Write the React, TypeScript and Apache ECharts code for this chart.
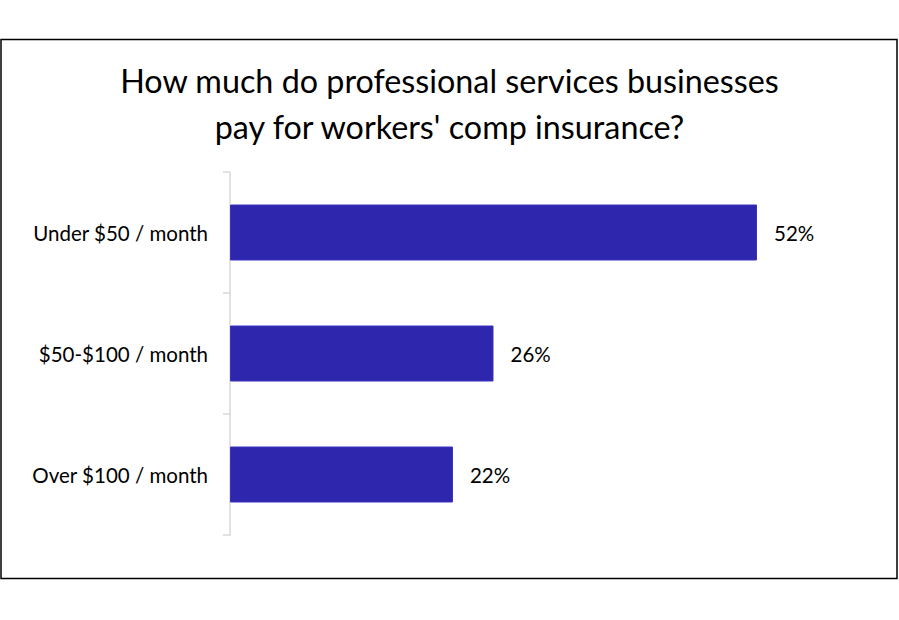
import React, { useEffect, useRef } from 'react';
import * as echarts from 'echarts';

// 数据
const categories = ['Under $50 / month', '$50-$100 / month', 'Over $100 / month'];
const shares = [52, 26, 22];
const titleLines = ['How much do professional services businesses', "pay for workers' comp insurance?"];

const FONT = 'Lato, "Open Sans", sans-serif';

const App: React.FC = () => {
  const chartRef = useRef<HTMLDivElement>(null);

  useEffect(() => {
    if (!chartRef.current) return;
    const chart = echarts.init(chartRef.current, undefined, { renderer: 'svg' });
    chart.setOption({
      animation: false,
      backgroundColor: '#ffffff',
      textStyle: { fontFamily: FONT },
      title: {
        text: titleLines.join('\n'),
        left: 'center',
        top: 52,
        textStyle: {
          fontFamily: FONT,
          fontSize: 32.3,
          fontWeight: 'normal',
          color: '#000000',
          lineHeight: 46,
        },
      },
      graphic: [
        {
          type: 'rect',
          shape: { x: 1, y: 39.5, width: 896, height: 539 },
          style: { fill: 'none', stroke: '#000000', lineWidth: 1.5 },
          silent: true,
        },
      ],
      grid: { left: 230, right: 142, top: 172, height: 363 },
      xAxis: {
        type: 'value',
        min: 0,
        max: 52,
        show: false,
      },
      yAxis: {
        type: 'category',
        data: categories,
        inverse: true,
        axisLine: { show: true, lineStyle: { color: '#d9d9d9', width: 1.5 } },
        axisTick: { show: true, length: 7, lineStyle: { color: '#d9d9d9', width: 1.5 } },
        axisLabel: { margin: 22, fontSize: 20.5, color: '#000000', fontFamily: FONT },
      },
      series: [
        {
          type: 'bar',
          data: shares,
          barWidth: 56,
          itemStyle: { color: '#2f26ae', borderColor: '#3a32c0', borderWidth: 1 },
          label: {
            show: true,
            position: 'right',
            distance: 17,
            formatter: '{c}%',
            fontSize: 20.5,
            color: '#000000',
            fontFamily: FONT,
          },
        },
      ],
    });
    return () => chart.dispose();
  }, []);

  return (
    <div
      ref={chartRef}
      style={{ position: 'fixed', left: 0, top: 0, width: '899px', height: '620px' }}
    ></div>
  );
};

export default App;
